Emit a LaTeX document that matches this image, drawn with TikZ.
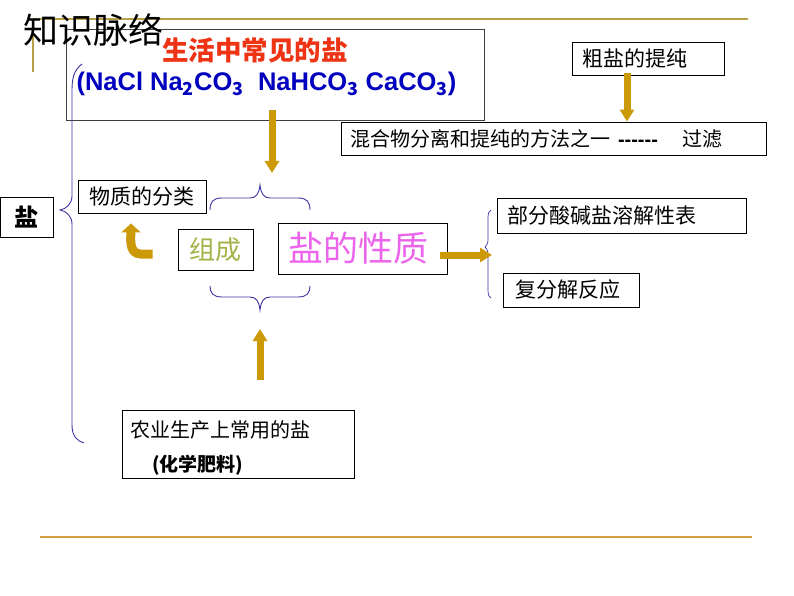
\documentclass[tikz,border=0pt]{standalone}
\usepackage{fontspec}
\setmainfont{Noto Sans CJK SC}
\newfontfamily\arialfont{Liberation Sans}
\usetikzlibrary{arrows.meta}
\definecolor{goldline}{RGB}{184,160,70}
\definecolor{orangeline}{RGB}{214,160,60}
\definecolor{goldfill}{RGB}{204,154,8}
\definecolor{bracecol}{RGB}{60,50,160}
\definecolor{saltred}{RGB}{238,52,20}
\definecolor{formblue}{RGB}{0,0,190}
\definecolor{olivetext}{RGB}{165,178,70}
\definecolor{pinktext}{RGB}{236,100,236}
\begin{document}
\begin{tikzpicture}[x=1pt, y=-1pt,
    box/.style={draw=black, line width=0.9pt, fill=white, inner sep=0pt, align=left},
    goldarrow/.style={goldfill, line width=7pt, -{Triangle[length=12pt, width=14pt]}},
    bracepath/.style={bracecol, line width=0.9pt}]
  \useasboundingbox (0,0) rectangle (794,596);
  % page lines
  \draw[goldline, line width=1.4pt] (33,19) -- (748,19);
  \draw[goldline, line width=1.4pt] (33,19) -- (33,72);
  \draw[orangeline, line width=1.4pt] (40,537) -- (752,537);
  % boxes
  \node[box, minimum width=418pt, minimum height=91pt, draw=black!75] (daily) at (275,74.5) {};
  \node[text=saltred] (dailyname) at (255,50) {\fontsize{26.5}{26.5}\selectfont\bfseries 生活中常见的盐};
  \node[text=formblue] (formula) at (266.5,84) {\arialfont\bfseries\fontsize{25.5}{25.5}\selectfont
    (NaCl Na$_{\mathbf 2}$CO$_{\mathbf 3}$\ \ NaHCO$_{\mathbf 3}$ CaCO$_{\mathbf 3}$)};
  \node[box, minimum height=33pt, text width=132pt, inner xsep=10pt] (crude) at (648,58.5)
    {\fontsize{21}{21}\selectfont 粗盐的提纯};
  \node[box, minimum height=33pt, text width=407pt, inner xsep=9pt] (method) at (553.5,138.5)
    {\fontsize{20}{20}\selectfont 混合物分离和提纯的方法之一\hspace{8pt}{\arialfont\bfseries ------}\hspace{25pt}过滤};
  \node[box, minimum width=53pt, minimum height=40pt] (salt) at (26.5,217)
    {\fontsize{24}{24}\selectfont\bfseries 盐};
  \node[box, minimum width=128pt, minimum height=33pt] (class) at (142,196.5)
    {\fontsize{21}{21}\selectfont 物质的分类};
  \node[box, minimum width=75pt, minimum height=41pt, text=olivetext] (comp) at (215.5,249.5)
    {\fontsize{26}{26}\selectfont 组成};
  \node[box, minimum width=169pt, minimum height=51pt, text=pinktext] (prop) at (362.5,248.5)
    {\fontsize{35}{35}\selectfont 盐的性质\hspace*{8pt}};
  \node[box, minimum height=35pt, text width=229pt, inner xsep=10pt] (solub) at (621.5,215.5)
    {\fontsize{21}{21}\selectfont 部分酸碱盐溶解性表};
  \node[box, minimum width=136pt, minimum height=34pt] (meta) at (571,290)
    {\fontsize{21}{21}\selectfont 复分解反应\hspace*{6pt}};
  \node[box, minimum width=232pt, minimum height=68pt] (agri) at (238,444) {};
  \node[anchor=west, inner sep=0pt] (agrione) at (130,430) {\fontsize{20}{20}\selectfont 农业生产上常用的盐};
  \node[anchor=west, inner sep=0pt] (agritwo) at (152,465) {\fontsize{19}{19}\selectfont\bfseries (化学肥料)};
  % braces
  \coordinate (bigtip) at (60,210);
  \draw[bracepath] (82,64) .. controls (74,70) and (72,78) .. (72,90) -- (72,196)
    .. controls (72,204) and (66,209) .. (bigtip) .. controls (66,211) and (72,216) .. (72,224)
    -- (72,425) .. controls (72,436) and (77,441) .. (84,443);
  \coordinate (toptip) at (260,185);
  \draw[bracepath] (210,210) .. controls (210,202) and (213,198) .. (222,198) -- (250,198)
    .. controls (256,198) and (259,194) .. (toptip) .. controls (261,194) and (264,198) .. (270,198)
    -- (298,198) .. controls (307,198) and (310,202) .. (310,210);
  \coordinate (bottip) at (260,310);
  \draw[bracepath] (210,286) .. controls (210,293) and (213,297) .. (222,297) -- (250,297)
    .. controls (256,297) and (259,301) .. (bottip) .. controls (261,301) and (264,297) .. (270,297)
    -- (298,297) .. controls (307,297) and (310,293) .. (310,286);
  \coordinate (righttip) at (485,247);
  \draw[bracepath, line width=0.7pt] (491,210) .. controls (489,211) and (488,213) .. (488,218) -- (488,240)
    .. controls (488,244) and (486,246) .. (righttip) .. controls (486,248) and (488,250) .. (488,254)
    -- (488,290) .. controls (488,295) and (489,297) .. (491,298);
  % arrows
  \draw[goldarrow] ([xshift=-21pt, yshift=2pt]crude.south) -- ([xshift=-21pt]crude.south |- method.north);
  \draw[goldarrow] ([xshift=-3pt, yshift=10pt]daily.south) -- ([xshift=12pt, yshift=12pt]toptip);
  \draw[goldarrow] ([yshift=30pt]agri.north -| bottip) -- ([yshift=-19pt]bottip);
  \draw[goldarrow] ([xshift=-7pt, yshift=-6.5pt]prop.east) -- ([xshift=7pt, yshift=-8pt]righttip);
  \draw[goldfill, line width=9pt, -{Triangle[length=9pt, width=19pt]}]
    ([xshift=-25pt, yshift=-4.5pt]comp.west) -- +(-12,0) to[out=180, in=-90] ([xshift=-11pt, yshift=-10pt]class.south);
  % title over the box edge
  \node (title) at (93,30) {\fontsize{35}{35}\selectfont 知识脉络};
\end{tikzpicture}
\end{document}
